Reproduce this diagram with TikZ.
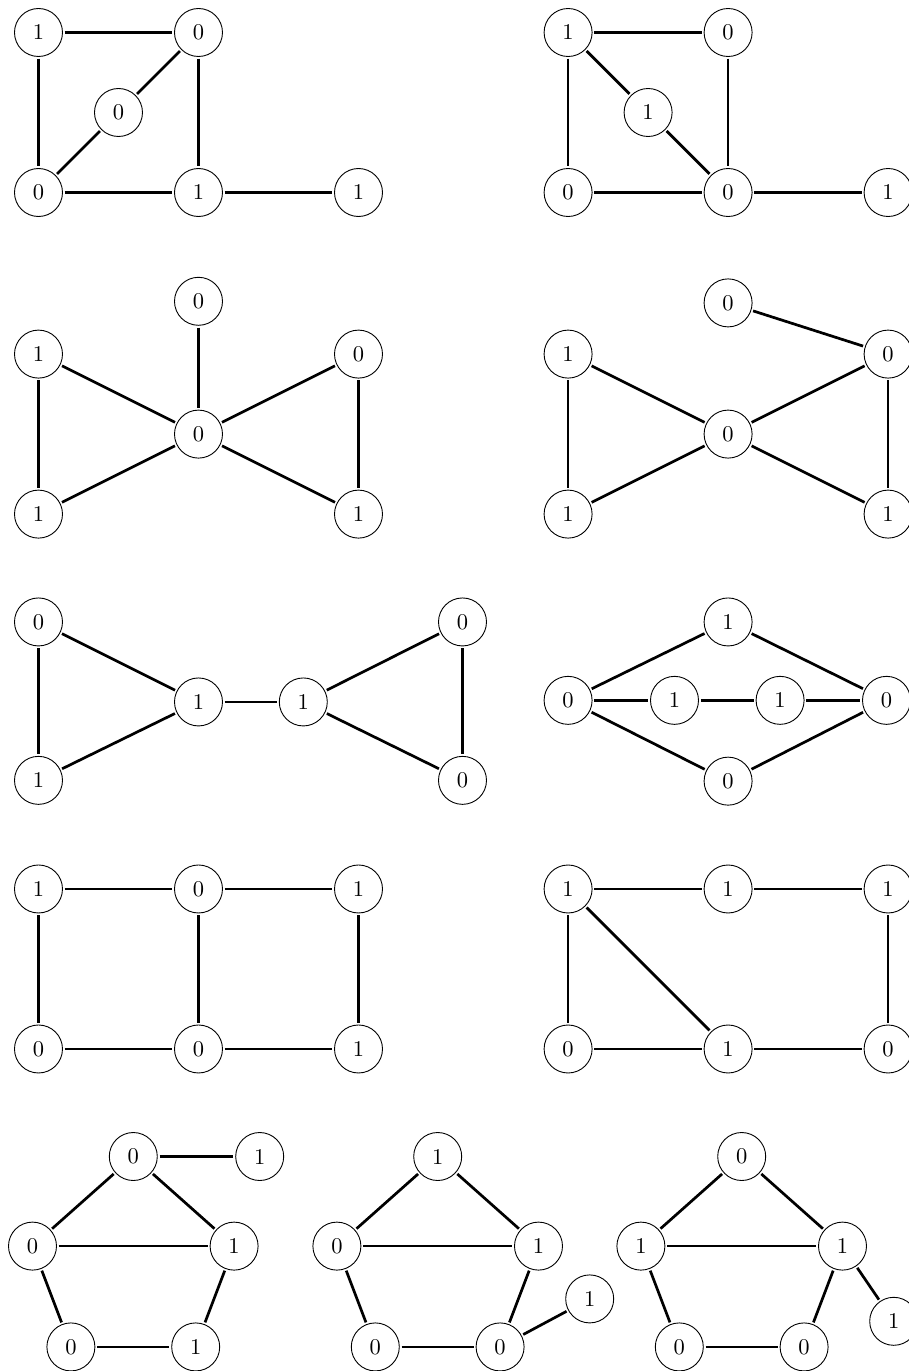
\documentclass[tikz,border=0pt]{standalone}
\usepackage{amsmath,amssymb}
\usepackage{tikz}

\begin{document}
\begin{tikzpicture}[
  x=2.5cm, y=2.5cm,
  bit/.style={draw, circle, thin, minimum size=0.75cm,
              inner sep=0pt, outer sep=1pt},
  link/.style={very thick}
]
\useasboundingbox (-0.2406,0.2031) rectangle (5.4406,-8.3656);
\clip (-0.2406,0.2031) rectangle (5.4406,-8.3656);

% row 1, left
\begin{scope}[shift={(0,0)}]
\node[bit] (a1) at (0,0)      {1};
\node[bit] (a2) at (1,0)      {0};
\node[bit] (a3) at (0.5,-0.5) {0};
\node[bit] (a4) at (0,-1)     {0};
\node[bit] (a5) at (1,-1)     {1};
\node[bit] (a6) at (2,-1)     {1};
\draw[link] (a1) -- (a2);
\draw[link] (a1) -- (a4);
\draw[link] (a2) -- (a3);
\draw[link] (a3) -- (a4);
\draw[link] (a2) -- (a5);
\draw[link] (a4) -- (a5);
\draw[link] (a5) -- (a6);
\end{scope}

% row 1, right
\begin{scope}[shift={(3.31,0)}]
\node[bit] (b1) at (0,0)      {1};
\node[bit] (b2) at (1,0)      {0};
\node[bit] (b3) at (0.5,-0.5) {1};
\node[bit] (b4) at (0,-1)     {0};
\node[bit] (b5) at (1,-1)     {0};
\node[bit] (b6) at (2,-1)     {1};
\draw[link] (b1) -- (b2);
\draw[link] (b1) -- (b4);
\draw[link] (b1) -- (b3);
\draw[link] (b3) -- (b5);
\draw[link] (b2) -- (b5);
\draw[link] (b4) -- (b5);
\draw[link] (b5) -- (b6);
\end{scope}

% row 2, left
\begin{scope}[shift={(0,-2.01)}]
\node[bit] (c1) at (1,0.33)  {0};
\node[bit] (c2) at (0,0)     {1};
\node[bit] (c3) at (2,0)     {0};
\node[bit] (c4) at (1,-0.5)  {0};
\node[bit] (c5) at (0,-1)    {1};
\node[bit] (c6) at (2,-1)    {1};
\draw[link] (c1) -- (c4);
\draw[link] (c2) -- (c4);
\draw[link] (c3) -- (c4);
\draw[link] (c5) -- (c4);
\draw[link] (c6) -- (c4);
\draw[link] (c2) -- (c5);
\draw[link] (c3) -- (c6);
\end{scope}

% row 2, right
\begin{scope}[shift={(3.31,-2.01)}]
\node[bit] (d1) at (1,0.32)  {0};
\node[bit] (d2) at (0,0)     {1};
\node[bit] (d3) at (2,0)     {0};
\node[bit] (d4) at (1,-0.5)  {0};
\node[bit] (d5) at (0,-1)    {1};
\node[bit] (d6) at (2,-1)    {1};
\draw[link] (d1) -- (d3);
\draw[link] (d2) -- (d4);
\draw[link] (d3) -- (d4);
\draw[link] (d5) -- (d4);
\draw[link] (d6) -- (d4);
\draw[link] (d2) -- (d5);
\draw[link] (d3) -- (d6);
\end{scope}

% row 3, left
\begin{scope}[shift={(0,-3.684)}]
\node[bit] (e1) at (0,0)       {0};
\node[bit] (e2) at (0,-0.99)   {1};
\node[bit] (e3) at (1,-0.5)    {1};
\node[bit] (e4) at (1.655,-0.5) {1};
\node[bit] (e5) at (2.65,0)    {0};
\node[bit] (e6) at (2.65,-0.99) {0};
\draw[link] (e1) -- (e2);
\draw[link] (e1) -- (e3);
\draw[link] (e2) -- (e3);
\draw[link] (e3) -- (e4);
\draw[link] (e4) -- (e5);
\draw[link] (e4) -- (e6);
\draw[link] (e5) -- (e6);
\end{scope}

% row 3, right
\begin{scope}[shift={(3.31,-3.684)}]
\node[bit] (f1) at (1,0)        {1};
\node[bit] (f2) at (0,-0.49)    {0};
\node[bit] (f3) at (0.665,-0.49) {1};
\node[bit] (f4) at (1.325,-0.49) {1};
\node[bit] (f5) at (1.99,-0.49) {0};
\node[bit] (f6) at (1,-0.995)   {0};
\draw[link] (f1) -- (f2);
\draw[link] (f1) -- (f5);
\draw[link] (f2) -- (f3);
\draw[link] (f3) -- (f4);
\draw[link] (f4) -- (f5);
\draw[link] (f2) -- (f6);
\draw[link] (f6) -- (f5);
\end{scope}

% row 4, left
\begin{scope}[shift={(0,-5.353)}]
\node[bit] (g1) at (0,0)  {1};
\node[bit] (g2) at (1,0)  {0};
\node[bit] (g3) at (2,0)  {1};
\node[bit] (g4) at (0,-1) {0};
\node[bit] (g5) at (1,-1) {0};
\node[bit] (g6) at (2,-1) {1};
\draw[link] (g1) -- (g2);
\draw[link] (g2) -- (g3);
\draw[link] (g1) -- (g4);
\draw[link] (g2) -- (g5);
\draw[link] (g3) -- (g6);
\draw[link] (g4) -- (g5);
\draw[link] (g5) -- (g6);
\end{scope}

% row 4, right
\begin{scope}[shift={(3.31,-5.353)}]
\node[bit] (h1) at (0,0)  {1};
\node[bit] (h2) at (1,0)  {1};
\node[bit] (h3) at (2,0)  {1};
\node[bit] (h4) at (0,-1) {0};
\node[bit] (h5) at (1,-1) {1};
\node[bit] (h6) at (2,-1) {0};
\draw[link] (h1) -- (h2);
\draw[link] (h2) -- (h3);
\draw[link] (h1) -- (h4);
\draw[link] (h1) -- (h5);
\draw[link] (h3) -- (h6);
\draw[link] (h4) -- (h5);
\draw[link] (h5) -- (h6);
\end{scope}

% row 5, three pentagons
\begin{scope}[shift={(0.5925,-7.025)}]
\node[bit] (i1) at (0,0)           {0};
\node[bit] (i2) at (0.79,0)        {1};
\node[bit] (i3) at (-0.63,-0.56)   {0};
\node[bit] (i4) at (0.63,-0.56)    {1};
\node[bit] (i5) at (-0.39,-1.19)   {0};
\node[bit] (i6) at (0.39,-1.19)    {1};
\draw[link] (i1) -- (i2);
\draw[link] (i1) -- (i3);
\draw[link] (i1) -- (i4);
\draw[link] (i3) -- (i4);
\draw[link] (i3) -- (i5);
\draw[link] (i4) -- (i6);
\draw[link] (i5) -- (i6);
\end{scope}

\begin{scope}[shift={(2.495,-7.025)}]
\node[bit] (j1) at (0,0)           {1};
\node[bit] (j2) at (-0.63,-0.56)   {0};
\node[bit] (j3) at (0.63,-0.56)    {1};
\node[bit] (j4) at (-0.39,-1.19)   {0};
\node[bit] (j5) at (0.39,-1.19)    {0};
\node[bit] (j6) at (0.95,-0.89)    {1};
\draw[link] (j1) -- (j2);
\draw[link] (j1) -- (j3);
\draw[link] (j2) -- (j3);
\draw[link] (j2) -- (j4);
\draw[link] (j3) -- (j5);
\draw[link] (j4) -- (j5);
\draw[link] (j5) -- (j6);
\end{scope}

\begin{scope}[shift={(4.395,-7.025)}]
\node[bit] (k1) at (0,0)           {0};
\node[bit] (k2) at (-0.63,-0.56)   {1};
\node[bit] (k3) at (0.63,-0.56)    {1};
\node[bit] (k4) at (-0.39,-1.19)   {0};
\node[bit] (k5) at (0.39,-1.19)    {0};
\node[bit] (k6) at (0.95,-1.03)    {1};
\draw[link] (k1) -- (k2);
\draw[link] (k1) -- (k3);
\draw[link] (k2) -- (k3);
\draw[link] (k2) -- (k4);
\draw[link] (k3) -- (k5);
\draw[link] (k4) -- (k5);
\draw[link] (k3) -- (k6);
\end{scope}
\end{tikzpicture}
\end{document}
